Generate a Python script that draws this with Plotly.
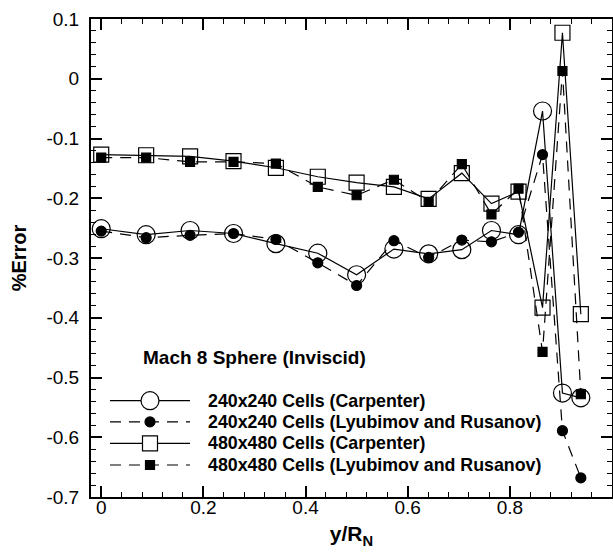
import plotly.graph_objects as go

# ---- data ----
y_over_rn = [0, 0.088, 0.174, 0.259, 0.342, 0.424, 0.500, 0.573, 0.641,
             0.706, 0.764, 0.817, 0.864, 0.903, 0.939]
err_240_carpenter = [-0.251, -0.261, -0.254, -0.259, -0.276, -0.292, -0.328, -0.285,
                     -0.293, -0.286, -0.254, -0.261, -0.054, -0.526, -0.534]
err_240_lyubimov = [-0.255, -0.266, -0.262, -0.259, -0.269, -0.308, -0.346, -0.271,
                    -0.299, -0.270, -0.273, -0.257, -0.127, -0.589, -0.668]
err_480_carpenter = [-0.127, -0.128, -0.130, -0.138, -0.149, -0.164, -0.174, -0.181,
                     -0.201, -0.158, -0.209, -0.189, -0.383, 0.077, -0.394]
err_480_lyubimov = [-0.132, -0.132, -0.139, -0.139, -0.142, -0.181, -0.195, -0.169,
                    -0.206, -0.143, -0.227, -0.184, -0.457, 0.013, -0.528]

series_names = ["240x240 Cells (Carpenter)",
                "240x240 Cells (Lyubimov and Rusanov)",
                "480x480 Cells (Carpenter)",
                "480x480 Cells (Lyubimov and Rusanov)"]

x_tick_vals = [0, 0.2, 0.4, 0.6, 0.8, 1.0]
x_tick_text = ["0", "0.2", "0.4", "0.6", "0.8", "1"]
y_tick_vals = [0.1, 0, -0.1, -0.2, -0.3, -0.4, -0.5, -0.6, -0.7]
y_tick_text = ["0.1", "0", "-0.1", "-0.2", "-0.3", "-0.4", "-0.5", "-0.6", "-0.7"]

plot_title = "Mach 8 Sphere (Inviscid)"

FONT = "Liberation Sans, Arial, sans-serif"
DASH = "11px,8px"

styles = [
    dict(symbol="circle-open", size=18, dash="solid"),
    dict(symbol="circle", size=10, dash=DASH),
    dict(symbol="square-open", size=15, dash="solid"),
    dict(symbol="square", size=9, dash=DASH),
]
values = [err_240_carpenter, err_240_lyubimov, err_480_carpenter, err_480_lyubimov]

fig = go.Figure()
for name, vals, st in zip(series_names, values, styles):
    fig.add_trace(go.Scatter(
        x=y_over_rn, y=vals, name=name, mode="lines+markers",
        line=dict(color="black", width=1.2, dash=st["dash"]),
        marker=dict(symbol=st["symbol"], size=st["size"], color="black",
                    line=dict(color="black", width=1.2)),
        showlegend=False,
    ))

# ---- manual legend (Tecplot style) ----
W, H = 613, 552
ml, mr, mt, mb = 91, 1, 19, 55
pw, ph = W - ml - mr, H - mt - mb


def px(xp):
    return (xp - ml) / pw


def py(yp):
    return (H - mb - yp) / ph


row_y = [400.7, 421.9, 443.3, 465.0]
line_x0, line_x1, mark_x, text_x = 110, 190, 150, 206
shapes = []
annotations = []
for name, st, yy in zip(series_names, styles, row_y):
    shapes.append(dict(type="line", xref="paper", yref="paper",
                       x0=px(line_x0), x1=px(line_x1), y0=py(yy), y1=py(yy),
                       line=dict(color="black", width=1.2, dash=st["dash"])))
    r = st["size"] / 2
    filled = not st["symbol"].endswith("open")
    shapes.append(dict(type="circle" if st["symbol"].startswith("circle") else "rect",
                       xref="paper", yref="paper",
                       xsizemode="pixel", ysizemode="pixel",
                       xanchor=px(mark_x), yanchor=py(yy),
                       x0=-r, x1=r, y0=-r, y1=r,
                       fillcolor="black" if filled else "white",
                       line=dict(color="black", width=1.2)))
    annotations.append(dict(xref="paper", yref="paper", x=px(text_x), y=py(yy),
                            xanchor="left", yanchor="middle", showarrow=False,
                            text="<b>%s</b>" % name,
                            font=dict(family=FONT, size=17.8, color="black")))

annotations.append(dict(xref="paper", yref="paper", x=px(141), y=py(357),
                        xanchor="left", yanchor="middle", showarrow=False,
                        text="<b>%s</b>" % plot_title,
                        font=dict(family=FONT, size=19, color="black")))

axis_common = dict(showline=True, linewidth=2, linecolor="black", mirror="allticks",
                   ticks="inside", ticklen=11, tickwidth=2, tickcolor="black",
                   showgrid=False, zeroline=False,
                   tickfont=dict(family=FONT, size=19, color="black"))

fig.update_layout(
    width=W, height=H,
    margin=dict(l=ml, r=mr, t=mt, b=mb, autoexpand=False),
    paper_bgcolor="white", plot_bgcolor="white",
    shapes=shapes, annotations=annotations,
    xaxis=dict(range=[-0.02, 1.0], tickvals=x_tick_vals, ticktext=x_tick_text,
               minor=dict(dtick=0.04, tick0=0, ticks="inside", ticklen=5,
                          tickwidth=1, tickcolor="black"),
               title=dict(text="<b>y/R<sub>N</sub></b>", standoff=10,
                          font=dict(family=FONT, size=21, color="black")),
               ticklabelstandoff=-8,
               **axis_common),
    yaxis=dict(range=[-0.7, 0.1], tickvals=y_tick_vals, ticktext=y_tick_text,
               minor=dict(dtick=0.02, tick0=0, ticks="inside", ticklen=5,
                          tickwidth=1, tickcolor="black"),
               title=dict(text="<b>%Error</b>", standoff=14,
                          font=dict(family=FONT, size=20, color="black")),
               ticklabelstandoff=6,
               **axis_common),
)

fig.write_html("out.html")
